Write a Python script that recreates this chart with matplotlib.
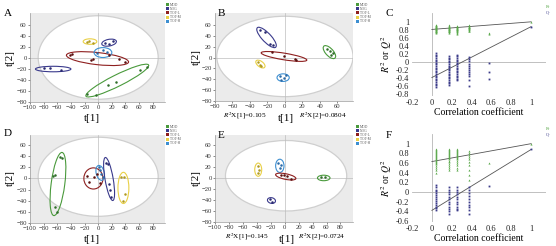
import matplotlib
matplotlib.use('Agg')
import matplotlib.pyplot as plt
from matplotlib.patches import Ellipse, Rectangle

plt.rcParams['font.family'] = ['Liberation Serif', 'DejaVu Serif']
plt.rcParams['mathtext.fontset'] = 'stix'

groups = ['MOD', 'NOG', 'TOT-L', 'TOT-M', 'TOT-H']
colors = {'MOD': '#4a9a3c', 'NOG': '#3a3a8c', 'TOT-L': '#8e1f1f',
          'TOT-M': '#e9d046', 'TOT-H': '#3d8fd1'}
pt_colors = {'MOD': '#2f6e2a', 'NOG': '#2a2a70', 'TOT-L': '#5a1010',
             'TOT-M': '#b09a20', 'TOT-H': '#2a6aa8'}

# ---------- score data (t[1], t[2]) ----------
A_scores = {
    'MOD': ([-15.8, -2.7, 14.3, 26.5, 61.5, 71.2], [-64.8, -67, -49.6, -43.5, -21, -16]),
    'NOG': ([-79.6, -70.8, -54.8, 10.4, 15.3, 21.6], [-18, -17.4, -22, 27.7, 25.3, 30.2]),
    'TOT-L': ([-41.6, -38.2, -11, -7.6, 15.3, 30, 39.6], [6.4, 7.7, -2.7, -0.9, 5.8, -1.5, -7.6]),
    'TOT-M': ([-17, -14, -7.6], [29.6, 31.4, 27.7]),
    'TOT-H': ([-1.2, 7, 13.4], [10, 14.4, 11.3]),
}
B_scores = {
    'MOD': ([48.4, 51.1, 53, 55], [15.6, 11.3, 5.2, 8.3]),
    'NOG': ([-28.7, -22.9, -17.1, -13.3], [50.9, 47.8, 24.7, 23.5]),
    'TOT-L': ([-15.2, -0.5, 11.8, 12.6], [10, 2.2, -2.7, -5]),
    'TOT-M': ([-30.6, -28.7, -26.8], [-9, -13, -16]),
    'TOT-H': ([-5.6, -0.5, 1, -4.4], [-34.3, -37.4, -32.5, -41.7]),
}
D_scores = {
    'MOD': ([-56.2, -52.8, -65.9, -63.5, -63.5, -61.1], [38.9, 35.9, 4.5, 5.7, -51.6, -60.7]),
    'NOG': ([11.9, 14.3, 15.3, 16.8, 19.2], [28, 26.8, -10.6, -21.5, -33.5]),
    'TOT-L': ([-17, -14, -6, -2, 3], [4, -6, 3, 8, -9]),
    'TOT-M': ([32.8, 37.7, 38.7, 36.2], [2.7, 2.7, -27.5, -40.8]),
    'TOT-H': ([0.7, 3.1, 4.6, 7], [20.8, 14.7, 8.7, 2.7]),
}
E_scores = {
    'MOD': ([52.3, 58.5], [0.9, 0.9]),
    'NOG': ([-21, -17.7], [-38.4, -43.8]),
    'TOT-L': ([-5.7, -1, 3.8, 9.5], [5.7, 4.5, 2.7, -1.5]),
    'TOT-M': ([-39, -37, -38], [21, 15, 9]),
    'TOT-H': ([-9, -5.7, -7.2], [26.8, 23.8, 17.8]),
}

# group ellipses: (group, cx, cy, width, height, angle)
A_ell = [('MOD', 28, -41, 108, 20, 32), ('NOG', -66, -20, 52, 10, 0),
         ('NOG', 16, 28, 22, 12, 15), ('TOT-L', -1, -1, 92, 22, -8),
         ('TOT-M', -12, 30, 20, 10, 0), ('TOT-H', 7, 10, 26, 18, 0)]
B_ell = [('NOG', -21, 37, 42, 12, -62), ('TOT-L', -1, 2, 54, 12, -15),
         ('MOD', 51, 10, 26, 10, -65), ('TOT-M', -28, -12, 16, 8, -60),
         ('TOT-H', -2, -37, 14, 14, 0)]
D_ell = [('MOD', -59, -10, 20, 114, -6), ('TOT-L', -7, 0, 28, 38, 0),
         ('TOT-H', 3, 10, 12, 27, 10), ('NOG', 16, -1, 12, 78, 8),
         ('TOT-M', 37, -17, 16, 56, 0)]
E_ell = [('TOT-M', -38, 15, 10, 24, 0), ('TOT-H', -7, 22, 12, 24, 0),
         ('TOT-L', 1.5, 2.5, 30, 10, -15), ('MOD', 56, 0, 18, 10, 0),
         ('NOG', -19, -41, 12, 10, -30)]

# Hotelling T2 ellipses: (cx, cy, width, height)
A_t2 = (0, 1, 176, 152)
B_t2 = (0, 2, 156, 148)
D_t2 = (0, 3, 176, 142)
E_t2 = (2, 4, 174, 128)

B_r2x = ['0.105', '0.0804']
E_r2x = ['0.145', '0.0724']

# ---------- permutation data ----------
perm_x = [0.04, 0.17, 0.25, 0.37, 0.58, 1.0]
C_R2 = [[0.92, 0.91, 0.9, 0.89, 0.88, 0.87, 0.86, 0.85, 0.84, 0.83, 0.82, 0.81, 0.8, 0.79, 0.78, 0.77, 0.76, 0.75, 0.74, 0.73],
        [0.91, 0.9, 0.88, 0.87, 0.86, 0.85, 0.84, 0.83, 0.82, 0.81, 0.8, 0.79, 0.78, 0.77, 0.76, 0.74, 0.72],
        [0.9, 0.89, 0.87, 0.86, 0.85, 0.84, 0.83, 0.82, 0.81, 0.8, 0.79, 0.78, 0.76, 0.74, 0.72, 0.7],
        [0.91, 0.9, 0.88, 0.87, 0.86, 0.85, 0.84, 0.83, 0.82, 0.8, 0.78, 0.76],
        [0.72, 0.7],
        [1.0]]
C_Q2 = [[0.22, 0.18, 0.14, 0.1, 0.06, 0.02, -0.02, -0.06, -0.1, -0.14, -0.18, -0.22, -0.26, -0.3, -0.34, -0.38, -0.42, -0.46, -0.5, -0.54, -0.58, -0.62],
        [0.15, 0.11, 0.07, 0.03, -0.01, -0.05, -0.09, -0.13, -0.17, -0.21, -0.25, -0.29, -0.33, -0.37, -0.41, -0.45, -0.49, -0.53, -0.57],
        [0.18, 0.14, 0.1, 0.06, 0.02, -0.02, -0.06, -0.1, -0.14, -0.18, -0.22, -0.26, -0.3, -0.34, -0.38, -0.42, -0.45],
        [0.12, 0.08, 0.02, -0.04, -0.1, -0.15, -0.2, -0.25, -0.3, -0.35, -0.45, -0.6],
        [-0.02, -0.25, -0.43],
        [0.87]]
C_R2_line = [0.81, 1.0]
C_Q2_line = [-0.39, 0.88]

F_R2 = [[0.89, 0.87, 0.85, 0.83, 0.81, 0.79, 0.77, 0.75, 0.73, 0.71, 0.69, 0.67, 0.65, 0.62, 0.6, 0.57, 0.54, 0.5, 0.45, 0.4],
        [0.88, 0.86, 0.84, 0.82, 0.8, 0.78, 0.76, 0.74, 0.72, 0.7, 0.68, 0.65, 0.62, 0.58, 0.54, 0.5, 0.46],
        [0.88, 0.86, 0.84, 0.82, 0.8, 0.78, 0.76, 0.74, 0.72, 0.7, 0.68, 0.65, 0.6, 0.55, 0.5, 0.45],
        [0.85, 0.8, 0.76, 0.72, 0.68, 0.62, 0.55, 0.45, 0.35, 0.25],
        [0.6],
        [1.0]]
F_Q2 = [[0.15, 0.1, 0.05, 0.02, -0.02, -0.06, -0.1, -0.14, -0.18, -0.22, -0.26, -0.3, -0.34, -0.38],
        [0.1, 0.05, 0.0, -0.05, -0.1, -0.15, -0.2, -0.25, -0.3, -0.35, -0.4, -0.45],
        [0.1, 0.05, 0.0, -0.05, -0.1, -0.15, -0.2, -0.25, -0.3, -0.35, -0.38],
        [0.1, 0.05, -0.02, -0.08, -0.14, -0.2, -0.26, -0.32, -0.38, -0.45],
        [0.13],
        [0.88]]
F_R2_line = [0.63, 1.0]
F_Q2_line = [-0.38, 0.88]

W, H = 556, 246
fig = plt.figure(figsize=(W / 100, H / 100), dpi=100)


def px_axes(l, t, r, b):
    return fig.add_axes([l / W, 1 - b / H, (r - l) / W, (b - t) / H])


def score_panel(rect, scores, ells, t2, xlim, ylim, xticks):
    ax = px_axes(*rect)
    ax.set_facecolor('#ebebeb')
    ax.set_xlim(*xlim)
    ax.set_ylim(*ylim)
    cx, cy, w, h = t2
    ax.add_patch(Ellipse((cx, cy), w, h, facecolor='white', edgecolor='#cfcfcf', lw=0.9, zorder=1))
    ax.axhline(0, color='#bdbdbd', lw=0.5, zorder=1.5)
    ax.axvline(0, color='#bdbdbd', lw=0.5, zorder=1.5)
    for g, ex, ey, ew, eh, ea in ells:
        ax.add_patch(Ellipse((ex, ey), ew, eh, angle=ea, fill=False,
                             edgecolor=colors[g], lw=0.8, zorder=3))
    for g in groups:
        xs, ys = scores[g]
        ax.plot(xs, ys, 'o', ms=1.8, color=pt_colors[g], mec='none', zorder=4)
    ax.set_xticks(xticks)
    ax.set_yticks(list(range(-80, 61, 20)))
    ax.tick_params(labelsize=4.8, length=1.5, width=0.4, pad=0.8, colors='#333333')
    for s in ['top', 'right']:
        ax.spines[s].set_visible(False)
    for s in ['left', 'bottom']:
        ax.spines[s].set_color('#9a9a9a')
        ax.spines[s].set_linewidth(0.5)
    return ax


def legend_block(x, y):
    for i, g in enumerate(groups):
        yy = y + i * 4.2
        fig.patches.append(Rectangle(((x) / W, 1 - (yy + 3) / H), 3 / W, 3 / H,
                                     facecolor=colors[g], edgecolor='none',
                                     transform=fig.transFigure, figure=fig))
        fig.text((x + 4) / W, 1 - (yy + 1.5) / H, g, fontsize=2.6, va='center',
                 ha='left', color='#555555')


def perm_panel(rect, R2, Q2, r2line, q2line, ylim, yticks):
    ax = px_axes(*rect)
    ax.set_xlim(-0.2, 1.15)
    ax.set_ylim(*ylim)
    ax.axhline(0, color='#b5b5b5', lw=0.6, zorder=1)
    ax.axvline(0, color='#b5b5b5', lw=0.6, zorder=1)
    ax.plot([0, 1], r2line, color='#555555', lw=0.6, zorder=2)
    ax.plot([0, 1], q2line, color='#555555', lw=0.6, zorder=2)
    for xv, vals in zip(perm_x, R2):
        ax.plot([xv] * len(vals), vals, '^', ms=1.5, color='#5aa84a', mec='none', zorder=3)
    for xv, vals in zip(perm_x, Q2):
        ax.plot([xv] * len(vals), vals, 's', ms=1.3, color='#3c3c8a', mec='none', zorder=3)
    ax.set_xticks([-0.2, 0, 0.2, 0.4, 0.6, 0.8, 1])
    ax.set_xticklabels(['-0.2', '0', '0.2', '0.4', '0.6', '0.8', '1'])
    ax.set_yticks(yticks)
    ax.set_yticklabels([('%g' % v) for v in yticks])
    ax.tick_params(labelsize=6, length=0, pad=2, colors='#222222')
    for s in ax.spines.values():
        s.set_visible(False)
    ax.set_xlabel('Correlation coefficient', fontsize=7, labelpad=1)
    ax.set_ylabel('$R^2$ or $Q^2$', fontsize=7, labelpad=1)
    return ax


def perm_legend(x, y):
    fig.text(x / W, 1 - y / H, 'R²', fontsize=3.2, ha='left', va='center', color='#5aa84a')
    fig.text(x / W, 1 - (y + 6) / H, 'Q²', fontsize=3.2, ha='left', va='center', color='#3c3c8a')


# Panel A
axA = score_panel((30, 13, 165, 102), A_scores, A_ell, A_t2, (-100, 98), (-80, 82),
                  list(range(-100, 81, 20)))
fig.text(92 / W, 1 - 118 / H, 't[1]', fontsize=8, ha='center', va='center')
fig.text(10 / W, 1 - 58 / H, 't[2]', fontsize=8, ha='center', va='center', rotation=90)
fig.text(4 / W, 1 - 13 / H, 'A', fontsize=8, ha='left', va='center')
legend_block(166, 3)

# Panel B
axB = score_panel((215, 13, 353, 101), B_scores, B_ell, B_t2, (-80, 78), (-80, 82),
                  list(range(-80, 61, 20)))
fig.text(286 / W, 1 - 118 / H, 't[1]', fontsize=8, ha='center', va='center')
fig.text(196 / W, 1 - 57 / H, 't[2]', fontsize=8, ha='center', va='center', rotation=90)
fig.text(218 / W, 1 - 14 / H, 'B', fontsize=8, ha='left', va='center')
fig.text(245 / W, 1 - 115.5 / H, '$R^2$X[1]=' + B_r2x[0], fontsize=5.2, ha='center', va='center')
fig.text(323 / W, 1 - 115.5 / H, '$R^2$X[2]=' + B_r2x[1], fontsize=5.2, ha='center', va='center')
legend_block(356, 3)

# Panel C
axC = perm_panel((412, 13, 546, 96), C_R2, C_Q2, C_R2_line, C_Q2_line, (-0.85, 1.22),
                 [-0.8, -0.6, -0.4, -0.2, 0, 0.2, 0.4, 0.6, 0.8, 1])
fig.text(386 / W, 1 - 13 / H, 'C', fontsize=8, ha='left', va='center')
perm_legend(546, 7)

# Panel D
axD = score_panel((30, 135, 165, 223), D_scores, D_ell, D_t2, (-100, 98), (-80, 78),
                  list(range(-100, 81, 20)))
fig.text(92 / W, 1 - 240 / H, 't[1]', fontsize=8, ha='center', va='center')
fig.text(10 / W, 1 - 178 / H, 't[2]', fontsize=8, ha='center', va='center', rotation=90)
fig.text(4 / W, 1 - 134 / H, 'D', fontsize=8, ha='left', va='center')
legend_block(166, 125)

# Panel E
axE = score_panel((215, 135, 353, 222), E_scores, E_ell, E_t2, (-100, 98), (-80, 78),
                  list(range(-100, 81, 20)))
fig.text(287 / W, 1 - 240 / H, 't[1]', fontsize=8, ha='center', va='center')
fig.text(196 / W, 1 - 178 / H, 't[2]', fontsize=8, ha='center', va='center', rotation=90)
fig.text(218 / W, 1 - 136 / H, 'E', fontsize=8, ha='left', va='center')
fig.text(247 / W, 1 - 237 / H, '$R^2$X[1]=' + E_r2x[0], fontsize=5.2, ha='center', va='center')
fig.text(322 / W, 1 - 237 / H, '$R^2$X[2]=' + E_r2x[1], fontsize=5.2, ha='center', va='center')
legend_block(356, 125)

# Panel F
axF = perm_panel((412, 134, 546, 222), F_R2, F_Q2, F_R2_line, F_Q2_line, (-0.62, 1.2),
                 [-0.6, -0.4, -0.2, 0, 0.2, 0.4, 0.6, 0.8, 1])
fig.text(386 / W, 1 - 136 / H, 'F', fontsize=8, ha='left', va='center')
perm_legend(546, 129)

fig.savefig('out.png', dpi=100)
